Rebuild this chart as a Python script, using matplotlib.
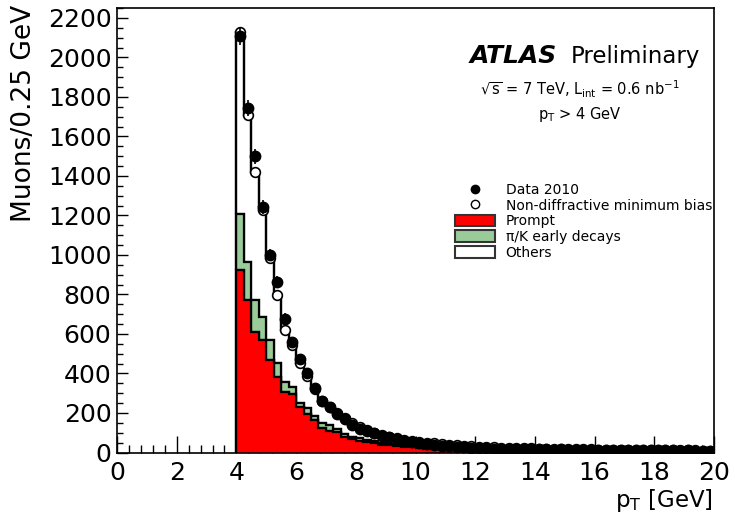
import numpy as np
import matplotlib
matplotlib.use("Agg")
import matplotlib.pyplot as plt
from matplotlib.lines import Line2D
from matplotlib.patches import Patch
from matplotlib.ticker import MultipleLocator

# ---- data (muons per 0.25 GeV, bins from 4 to 20 GeV) ----
bin_lo = 4.0
bin_hi = 20.0
bin_w = 0.25

data_2010 = [2110, 1745, 1500, 1245, 1000, 862, 678, 557, 471, 400,
             329, 263, 228, 197, 172, 137, 120, 108, 98, 86,
             76, 66, 58, 52, 48, 42, 38, 34, 31, 28,
             26, 24, 22, 21, 19, 20, 18, 18, 17, 18,
             16, 17, 15, 16, 15, 14, 15, 14, 13, 14,
             13, 12, 13, 12, 12, 11, 12, 11, 11, 10,
             11, 10, 10, 10]

prompt = [925, 770, 610, 567, 466, 381, 305, 295, 228, 197,
          162, 122, 111, 103, 78, 66, 60, 52, 46, 40,
          36, 32, 30, 26, 24, 20, 18, 16, 14, 12,
          10, 9, 8, 7, 7, 6, 6, 5, 5, 5,
          4, 4, 4, 4, 3, 3, 3, 3, 3, 2,
          2, 2, 2, 2, 2, 2, 2, 1, 1, 1,
          1, 1, 1, 1]

pik_decays = [280, 194, 160, 118, 101, 70, 51, 35, 25, 26,
              25, 25, 26, 17, 17, 14, 12, 10, 10, 8,
              7, 6, 6, 5, 5, 4, 4, 4, 3, 3,
              3, 3, 3, 3, 3, 2, 2, 2, 2, 2,
              2, 2, 2, 2, 2, 2, 1, 1, 1, 1,
              1, 1, 1, 1, 1, 1, 1, 1, 1, 1,
              1, 1, 1, 1]

others = [923, 742, 650, 545, 418, 344, 262, 215, 202, 162,
          133, 115, 93, 80, 80, 70, 56, 50, 44, 42,
          37, 34, 28, 27, 25, 26, 24, 22, 23, 22,
          21, 20, 19, 18, 17, 17, 16, 16, 15, 14,
          14, 13, 13, 12, 12, 12, 12, 12, 11, 11,
          11, 11, 10, 10, 10, 9, 9, 9, 9, 9,
          9, 9, 8, 8]

legend_labels = ["Data 2010", "Non-diffractive minimum bias", "Prompt",
                 "\u03c0/K early decays", "Others"]

# ---- figure ----
W, H = 735, 526
fig = plt.figure(figsize=(W / 100, H / 100), dpi=100)
ax = fig.add_axes([117 / W, 1 - 452.5 / H, (714 - 117) / W, (452.5 - 8) / H])

edges = np.arange(bin_lo, bin_hi + bin_w / 2, bin_w)
centers = 0.5 * (edges[:-1] + edges[1:])
p = np.array(prompt, float)
k = np.array(pik_decays, float)
o = np.array(others, float)
d = np.array(data_2010, float)
mc = p + k + o

red = "#ff0000"
green = "#99cc99"
lw = 1.6

ax.stairs(mc, edges, baseline=p + k, fill=True, facecolor="white",
          edgecolor="black", linewidth=lw, zorder=2)
ax.stairs(p + k, edges, baseline=p, fill=True, facecolor=green,
          edgecolor="black", linewidth=lw, zorder=2)
ax.stairs(p, edges, baseline=0, fill=True, facecolor=red,
          edgecolor="black", linewidth=lw, zorder=2)
ax.stairs(mc, edges, baseline=0, fill=False, edgecolor="black",
          linewidth=lw, zorder=3)

ax.plot(centers, mc, linestyle="none", marker="o", markersize=7,
        markerfacecolor="white", markeredgecolor="black",
        markeredgewidth=1.2, zorder=4)
ax.errorbar(centers, d, yerr=np.sqrt(d), fmt="o", color="black",
            markersize=7.5, elinewidth=1.2, capsize=0, zorder=5)

ax.set_xlim(0, 20)
ax.set_ylim(0, 2250)
ax.xaxis.set_major_locator(MultipleLocator(2))
ax.xaxis.set_minor_locator(MultipleLocator(0.4))
ax.yaxis.set_major_locator(MultipleLocator(200))
ax.yaxis.set_minor_locator(MultipleLocator(50))
ax.tick_params(axis="x", which="major", direction="in", length=12,
               width=1, labelsize=18, pad=6)
ax.tick_params(axis="x", which="minor", direction="in", length=6, width=1)
ax.tick_params(axis="y", which="major", direction="in", length=8,
               width=1, labelsize=18, pad=4)
ax.tick_params(axis="y", which="minor", direction="in", length=4, width=1)
for s in ax.spines.values():
    s.set_linewidth(1.2)

fig.text(24 / W, 1 - 5 / H, "Muons/0.25 GeV", rotation=90, fontsize=19,
         ha="center", va="top")
fig.text(713 / W, 1 - 507 / H, r"$\mathregular{p_{T}}$ [GeV]", fontsize=16.5,
         ha="right", va="baseline")

fig.text(470 / W, 1 - 63 / H, "ATLAS", fontsize=18, fontweight="bold",
         fontstyle="italic", ha="left", va="baseline")
fig.text(571 / W, 1 - 63 / H, "Preliminary", fontsize=16.5,
         ha="left", va="baseline")
fig.text(580 / W, 1 - 95 / H,
         r"$\mathregular{\sqrt{s}}$ = 7 TeV, $\mathregular{L_{int}}$ = 0.6 nb$\mathregular{^{-1}}$",
         fontsize=10.5, ha="center", va="baseline")
fig.text(580 / W, 1 - 119 / H, r"$\mathregular{p_{T}}$ > 4 GeV",
         fontsize=10.5, ha="center", va="baseline")

handles = [
    Line2D([], [], linestyle="none", marker="o", markersize=6,
           markerfacecolor="black", markeredgecolor="black"),
    Line2D([], [], linestyle="none", marker="o", markersize=6,
           markerfacecolor="white", markeredgecolor="black"),
    Patch(facecolor=red, edgecolor="#333333", linewidth=1.5),
    Patch(facecolor=green, edgecolor="#333333", linewidth=1.5),
    Patch(facecolor="white", edgecolor="#333333", linewidth=1.5),
]
ax.legend(handles, legend_labels, loc="upper left",
          bbox_to_anchor=(455 / W, 1 - 183 / H), bbox_transform=fig.transFigure,
          frameon=False, fontsize=10, borderpad=0, borderaxespad=0,
          handlelength=2.85, handleheight=0.9, handletextpad=0.8,
          labelspacing=0.12)

fig.savefig("out.png", dpi=100)
